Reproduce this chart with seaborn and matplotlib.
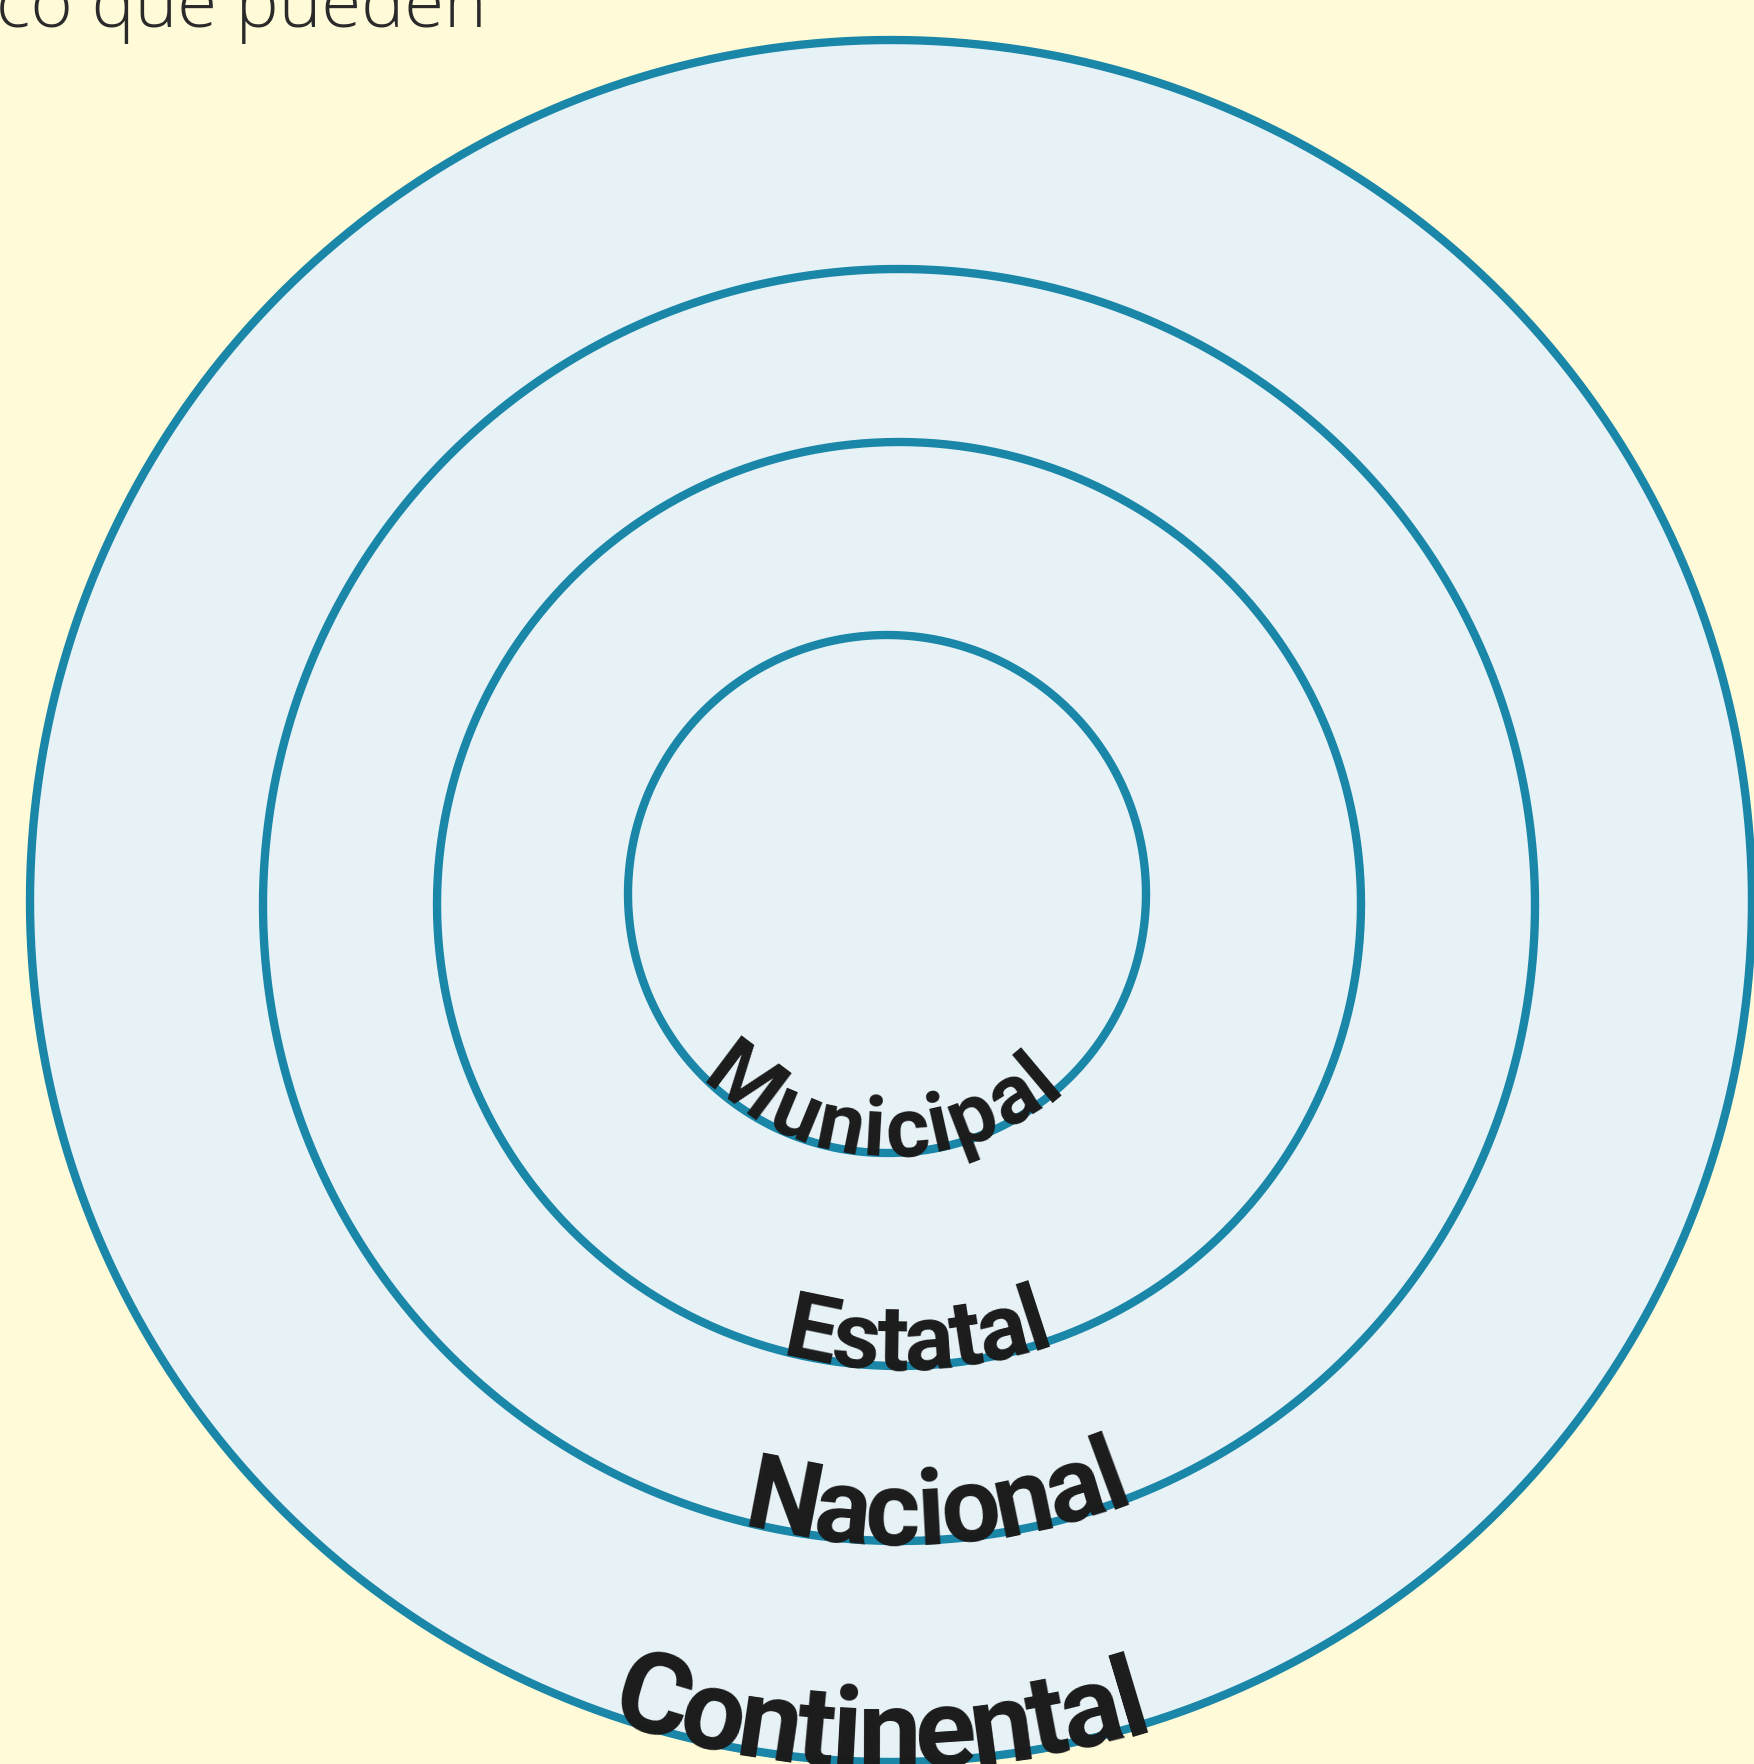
import numpy as np
import pandas as pd
import matplotlib
matplotlib.use("Agg")
import matplotlib.pyplot as plt
import seaborn as sns
from matplotlib.font_manager import FontProperties
from matplotlib.patches import Circle

# ---- data ----
labels = ["Municipal", "Estatal", "Nacional", "Continental"]
radii = [259, 462, 636, 861]
centers_x = [887, 899, 899, 891]
centers_y = [895, 905, 906, 902]          # image coords, y down
label_start = [-45.0, -14.8, -14.3, -19.1]  # degrees from bottom, + to the right
label_end = [42.5, 19.6, 21.6, 17.7]
label_offsets = [3, 3, 3, 6]              # baseline radius offset
label_fit = [0.42, 0.2, 0.18, 0.12]       # fraction of em where spacing is fitted
header = "co que pueden"

BG = "#FFFBD9"
FILL = "#E7F2F7"
LINE = "#1A86A8"
INK = "#1B1B1B"
LABEL_FONT = ["Roboto", "DejaVu Sans"]
TRACK = 0.93

sns.set_theme(style="white")
plt.rcParams["font.family"] = ["Open Sans", "DejaVu Sans"]

W, H = 1754, 1765
fig = plt.figure(figsize=(W / 100, H / 100), dpi=100)
fig.patch.set_facecolor(BG)
ax = fig.add_axes([0, 0, 1, 1])
ax.set_facecolor(BG)

# filled disc (outermost)
i_out = int(np.argmax(radii))
ax.add_patch(Circle((centers_x[i_out], centers_y[i_out]), radii[i_out],
                    facecolor=FILL, edgecolor="none", zorder=1))

# outlines through seaborn
t = np.linspace(0, 2 * np.pi, 721)
for cx, cy, r in zip(centers_x, centers_y, radii):
    df = pd.DataFrame({"x": cx + r * np.cos(t), "y": cy + r * np.sin(t)})
    sns.lineplot(data=df, x="x", y="y", sort=False, estimator=None,
                 color=LINE, linewidth=6, ax=ax, zorder=2)

ax.set_xlim(0, W)
ax.set_ylim(H, 0)
ax.axis("off")

renderer = fig.canvas.get_renderer()

def text_w(s, prop):
    if not s:
        return 0.0
    w, h, d = renderer.get_text_width_height_descent(s, prop, ismath=False)
    return w

for name, cx, cy, r, a0, a1, off, kf in zip(labels, centers_x, centers_y, radii,
                                            label_start, label_end, label_offsets,
                                            label_fit):
    rb = r + off
    span = np.deg2rad(a1 - a0)
    ref_prop = FontProperties(family=LABEL_FONT, weight="bold", size=100)
    w1 = text_w(name, ref_prop) / 100.0           # px per point
    size = span * rb / (w1 * TRACK + span * kf * 100 / 72)
    prop = FontProperties(family=LABEL_FONT, weight="bold", size=size)
    first_w = text_w(name[0], prop)
    last_w = text_w(name[-1], prop)
    centres = [text_w(name[:k], prop) + text_w(ch, prop) / 2 for k, ch in enumerate(name)]
    c0, c1 = centres[0], centres[-1]
    arc0 = np.deg2rad(a0) + (first_w / 2) / rb
    arc1 = np.deg2rad(a1) - (last_w / 2) / rb
    for k, ch in enumerate(name):
        frac = (centres[k] - c0) / (c1 - c0)
        phi = arc0 + frac * (arc1 - arc0)
        x = cx + rb * np.sin(phi)
        y = cy + rb * np.cos(phi)
        ax.text(x, y, ch, fontproperties=prop, color=INK, ha="center",
                va="baseline", rotation=np.rad2deg(phi), rotation_mode="anchor",
                zorder=5)

ax.text(-4, 27, header, fontsize=52, fontweight="light",
        family=["Open Sans", "DejaVu Sans"], color="#2A2A2A",
        ha="left", va="baseline", zorder=5)

fig.savefig("out.png", dpi=100, facecolor=fig.get_facecolor())
